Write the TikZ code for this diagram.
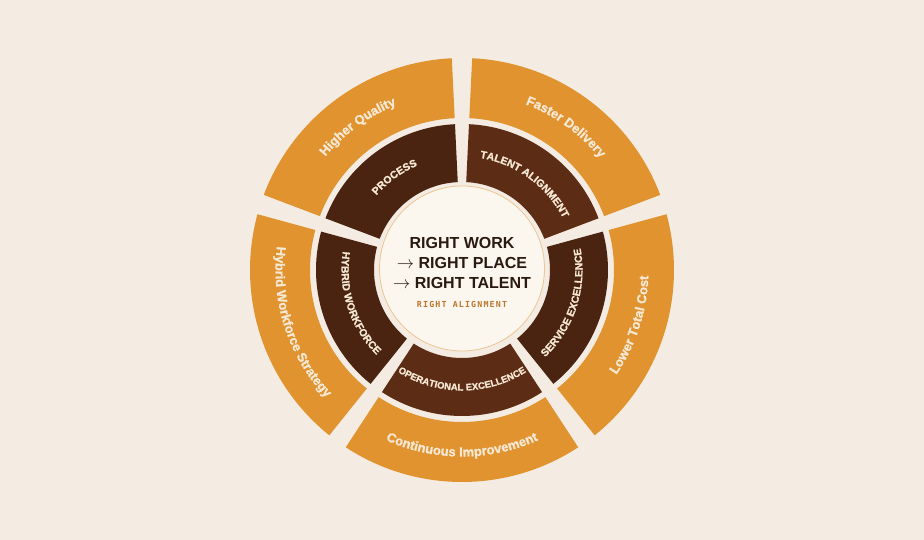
\documentclass[tikz,border=0pt]{standalone}
\usepackage{fontspec}
\setmainfont{Liberation Sans}
\newfontfamily\lblfont{Liberation Sans}[UprightFont=*-Bold, FakeBold=1.2]
\newfontfamily\submono[LetterSpace=14]{DejaVu Sans Mono Bold}
\usetikzlibrary{decorations.text}
\definecolor{bg}{HTML}{F4ECE2}
\definecolor{orng}{HTML}{E0932F}
\definecolor{darkA}{HTML}{4A2311}
\definecolor{darkB}{HTML}{5D2C15}
\definecolor{corefill}{HTML}{FBF6EE}
\definecolor{coreline}{HTML}{ECC592}
\definecolor{ink}{HTML}{2B1A10}
\definecolor{subink}{HTML}{B9772F}
\definecolor{lbl}{HTML}{F7E8D4}
\def\halfgap{2.75}
% annular sector: colour, angle1, angle2, inner r, outer r
\newcommand\ringseg[5]{%
  \fill[#1] ({#2+\halfgap}:#4pt) arc[start angle={#2+\halfgap}, end angle={#3-\halfgap}, radius=#4pt]
    -- ({#3-\halfgap}:#5pt) arc[start angle={#3-\halfgap}, end angle={#2+\halfgap}, radius=#5pt] -- cycle;}
% curved label: radius, start angle, end angle, font size, text
\newcommand\arclabel[5]{%
  {\lblfont\fontsize{#4}{#4}\selectfont
  \path[decorate, decoration={text along path, text align=center, text color=lbl,
      text={|\lblfont\fontsize{#4}{#4}\selectfont|#5}}]
    (#2:#1pt) arc[start angle=#2, end angle=#3, radius=#1pt];}}
\begin{document}
\begin{tikzpicture}[x=1pt,y=1pt]
\fill[bg] (-462,-270) rectangle (462,270);
\useasboundingbox (-462,-270) rectangle (462,270);

% outer ring
\ringseg{orng}{90}{162}{152}{212}
\ringseg{orng}{18}{90}{152}{212}
\ringseg{orng}{-54}{18}{152}{212}
\ringseg{orng}{-126}{-54}{152}{212}
\ringseg{orng}{162}{234}{152}{212}
% inner ring
\ringseg{darkA}{90}{162}{88}{146}
\ringseg{darkB}{18}{90}{88}{146}
\ringseg{darkA}{-54}{18}{88}{146}
\ringseg{darkB}{-126}{-54}{88}{146}
\ringseg{darkA}{162}{234}{88}{146}

% inner labels
\arclabel{113.5}{176}{76}{10.5}{PROCESS}
\arclabel{113.5}{104}{4}{10.5}{TALENT ALIGNMENT}
\arclabel{120.5}{-68}{32}{10.5}{SERVICE EXCELLENCE}
\arclabel{120.5}{-140}{-40}{9.5}{OPERATIONAL EXCELLENCE}
\arclabel{120.5}{148}{248}{10.5}{HYBRID WORKFORCE}

% outer labels
\arclabel{177.5}{176}{76}{13}{Higher Quality}
\arclabel{177.5}{104}{4}{13}{Faster Delivery}
\arclabel{186.5}{-68}{32}{13}{Lower Total Cost}
\arclabel{186.5}{-140}{-40}{13}{Continuous Improvement}
\arclabel{186.5}{148}{248}{13}{Hybrid Workforce Strategy}

% core
\node[circle, minimum size=165pt, inner sep=0pt, fill=corefill, draw=coreline, line width=0.8pt] (core) at (0,1.5) {};
\tikzset{titletext/.style={font=\fontsize{16}{16}\selectfont\bfseries, text=ink, anchor=base, inner sep=0pt}}
\node[titletext] (l1) at (0,21) {RIGHT WORK};
\node[titletext] (l2) at (0,1) {$\rightarrow$ RIGHT PLACE};
\node[titletext] (l3) at (0,-18.7) {$\rightarrow$ RIGHT TALENT};
\node[font=\fontsize{8.3}{8.3}\selectfont\submono, text=subink, anchor=base, inner sep=0pt] (sub) at (0,-37.7) {RIGHT ALIGNMENT};
\end{tikzpicture}
\end{document}
